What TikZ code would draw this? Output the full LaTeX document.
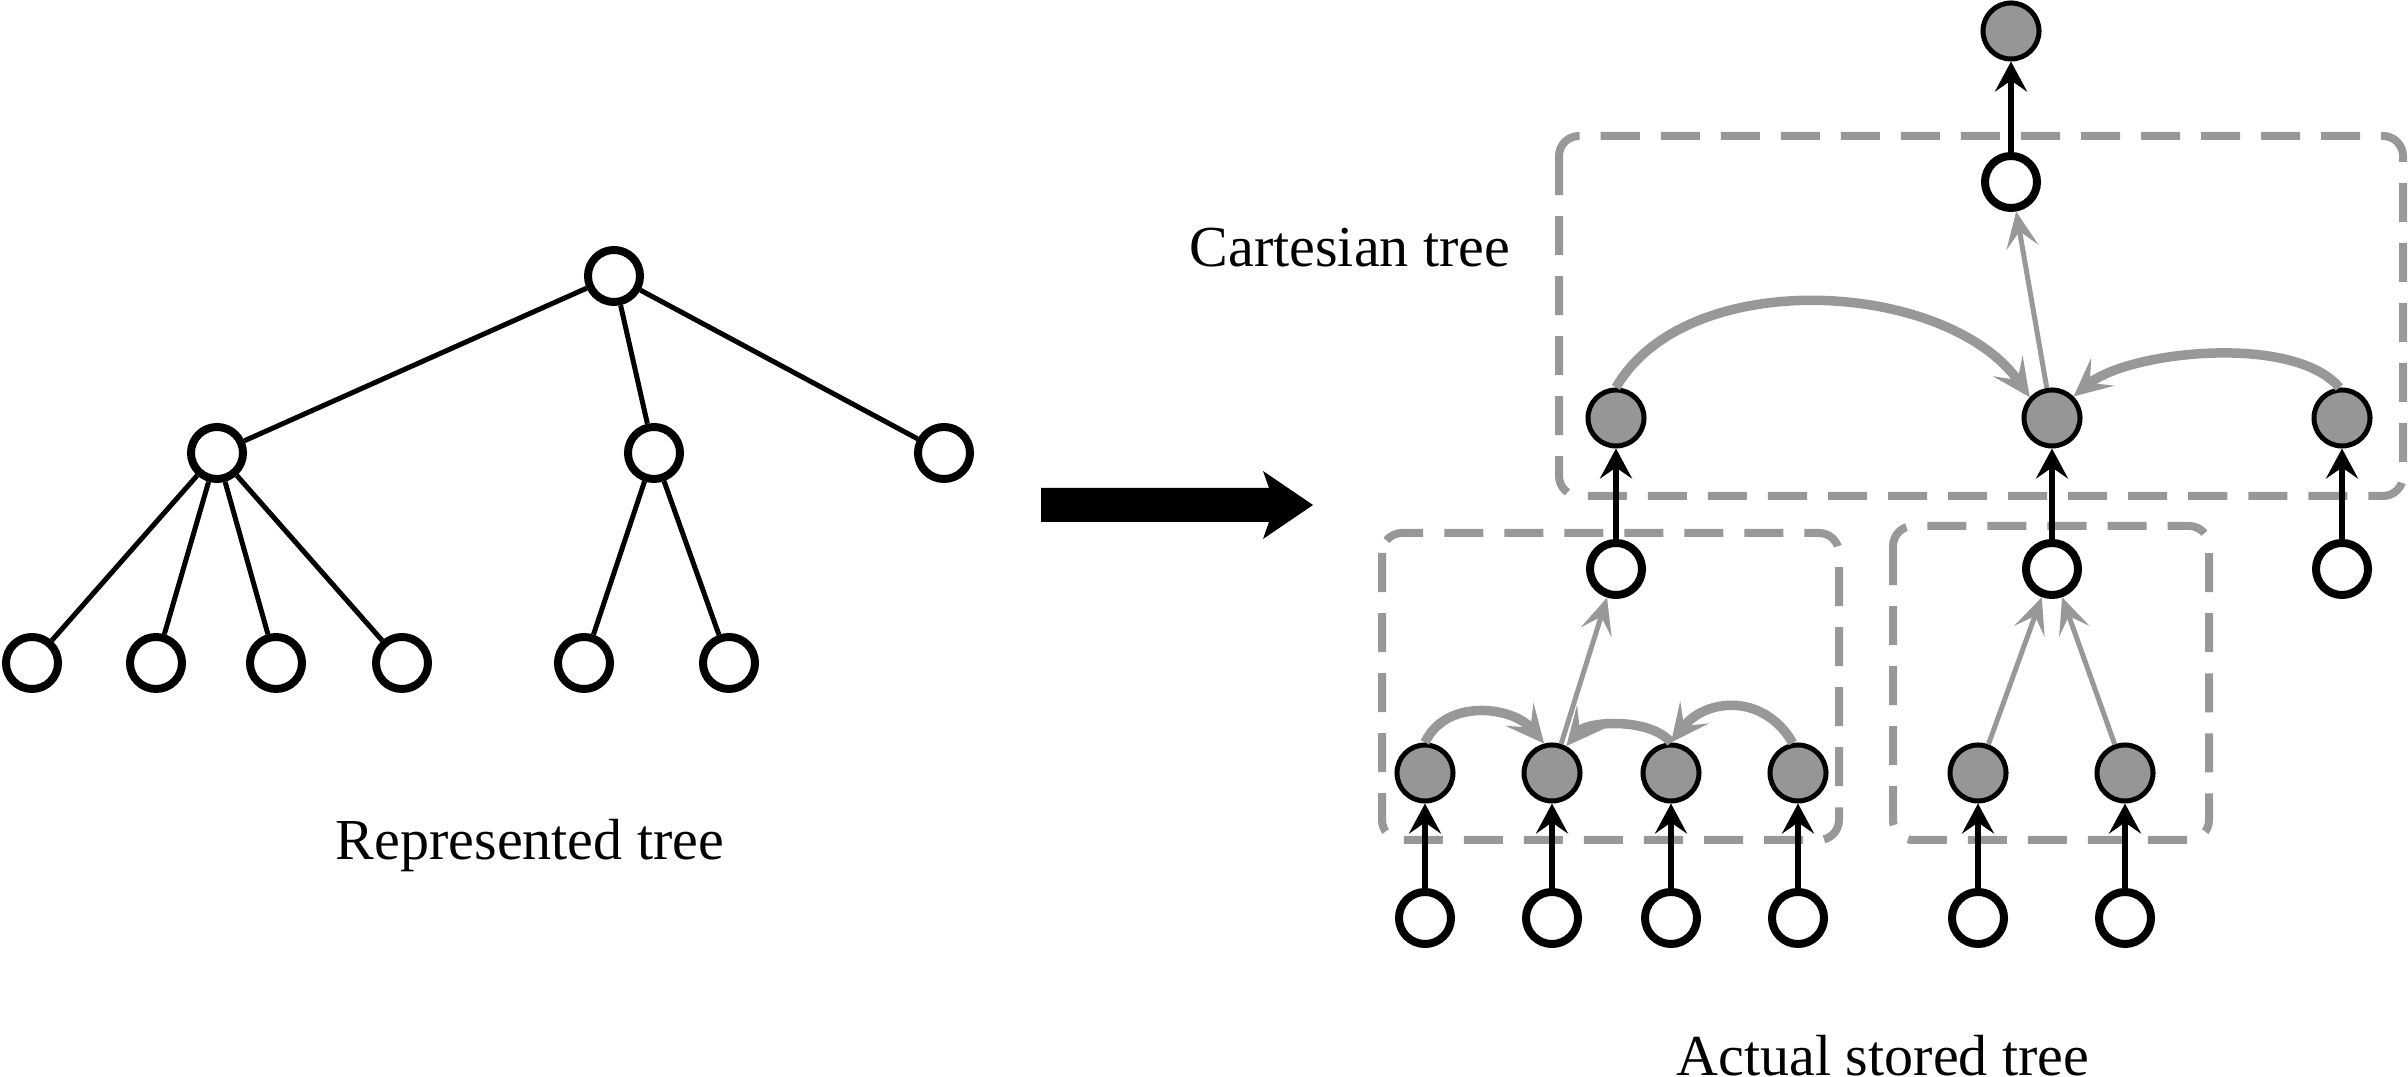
\documentclass[tikz,border=0pt]{standalone}
\usepackage{fontspec}
\setmainfont{Liberation Serif}
\usetikzlibrary{arrows.meta}
\definecolor{cgray}{HTML}{989898}
\definecolor{cfill}{HTML}{969696}
\begin{document}
\begin{tikzpicture}[x=0.01cm,y=-0.01cm,
  wnode/.style={circle,draw=black,fill=white,line width=0.08cm,minimum size=0.52cm,inner sep=0pt},
  gnode/.style={circle,draw=black,fill=cfill,line width=0.05cm,minimum size=0.56cm,inner sep=0pt},
  tedge/.style={line width=0.05cm},
  barrow/.style={line width=0.065cm,-{Stealth[length=0.3cm,width=0.32cm,inset=0.11cm]}},
  thinarrow/.style={cgray,line width=0.05cm,-{Stealth[length=0.36cm,width=0.32cm,inset=0.16cm]}},
  thickarrow/.style={cgray,line width=0.095cm,-{Stealth[length=0.38cm,width=0.36cm,inset=0.17cm]}},
  dbox/.style={cgray,line width=0.08cm,dash pattern=on 0.39cm off 0.21cm,rounded corners=0.2cm},
  lbl/.style={font=\fontsize{16.5}{20}\selectfont,anchor=base,inner sep=0pt}
]
\useasboundingbox (0,0) rectangle (2408,1077);

% ---- represented tree ----
\node[wnode] (r) at (614,276) {};
\node[wnode] (a) at (217,453) {};
\node[wnode] (b) at (654,453) {};
\node[wnode] (c) at (944,453) {};
\node[wnode] (l1) at (32,663) {};
\node[wnode] (l2) at (156,663) {};
\node[wnode] (l3) at (276,663) {};
\node[wnode] (l4) at (402,663) {};
\node[wnode] (l5) at (584,663) {};
\node[wnode] (l6) at (729,663) {};
\draw[tedge] (r) -- (a);
\draw[tedge] (r) -- (b);
\draw[tedge] (r) -- (c);
\draw[tedge] (a) -- (l1);
\draw[tedge] (a) -- (l2);
\draw[tedge] (a) -- (l3);
\draw[tedge] (a) -- (l4);
\draw[tedge] (b) -- (l5);
\draw[tedge] (b) -- (l6);
\node[lbl] (rt) at (530,860) {Represented tree};

% ---- big arrow ----
\fill (1041,488) -- (1269,488) -- (1263,471) -- (1313,505) -- (1263,539) -- (1269,522) -- (1041,522) -- cycle;

% ---- dashed boxes ----
\draw[dbox] (1559,136) rectangle (2403,496);
\draw[dbox] (1382,533) rectangle (1839,840);
\draw[dbox] (1893,526) rectangle (2209,840);

% ---- stored tree nodes ----
\node[gnode] (T) at (2011,31) {};
\node[wnode] (W0) at (2011,182) {};
\node[gnode] (G1) at (1616,418) {};
\node[gnode] (G2) at (2052,418) {};
\node[gnode] (G3) at (2342,418) {};
\node[wnode] (W1) at (1616,569) {};
\node[wnode] (W2) at (2052,569) {};
\node[wnode] (W3) at (2342,569) {};
\foreach \i/\x in {1/1425,2/1552,3/1671,4/1798,5/1978,6/2125}{
  \node[gnode] (H\i) at (\x,773) {};
  \node[wnode] (L\i) at (\x,918) {};
}

% ---- black arrows ----
\draw[barrow] (W0) -- (T);
\draw[barrow] (W1) -- (G1);
\draw[barrow] (W2) -- (G2);
\draw[barrow] (W3) -- (G3);
\foreach \i in {1,...,6}{
  \draw[barrow] (L\i) -- (H\i);
}

% ---- gray thin arrows ----
\draw[thinarrow] (G2) -- (W0);
\draw[thinarrow] (H2) -- (W1);
\draw[thinarrow] (H5) -- (W2);
\draw[thinarrow] (H6) -- (W2);

% ---- gray thick arcs ----
\draw[thickarrow] (G1.north) to[out=60,in=125,looseness=0.88] (G2.137);
\draw[thickarrow] (G3.95) to[out=130,in=40,looseness=0.68] (G2.45);
\draw[thickarrow] (H1.north) to[out=65,in=130,looseness=1.05] (H2.105);
\draw[thickarrow] (H3.north) to[out=130,in=50,looseness=0.8] (H2.62);
\draw[thickarrow] (H4.100) to[out=120,in=52,looseness=1.2] (H3.north);

% ---- labels ----
\node[lbl] (ct) at (1350,267) {Cartesian tree};
\node[lbl] (at) at (1883,1076) {Actual stored tree};
\end{tikzpicture}
\end{document}
